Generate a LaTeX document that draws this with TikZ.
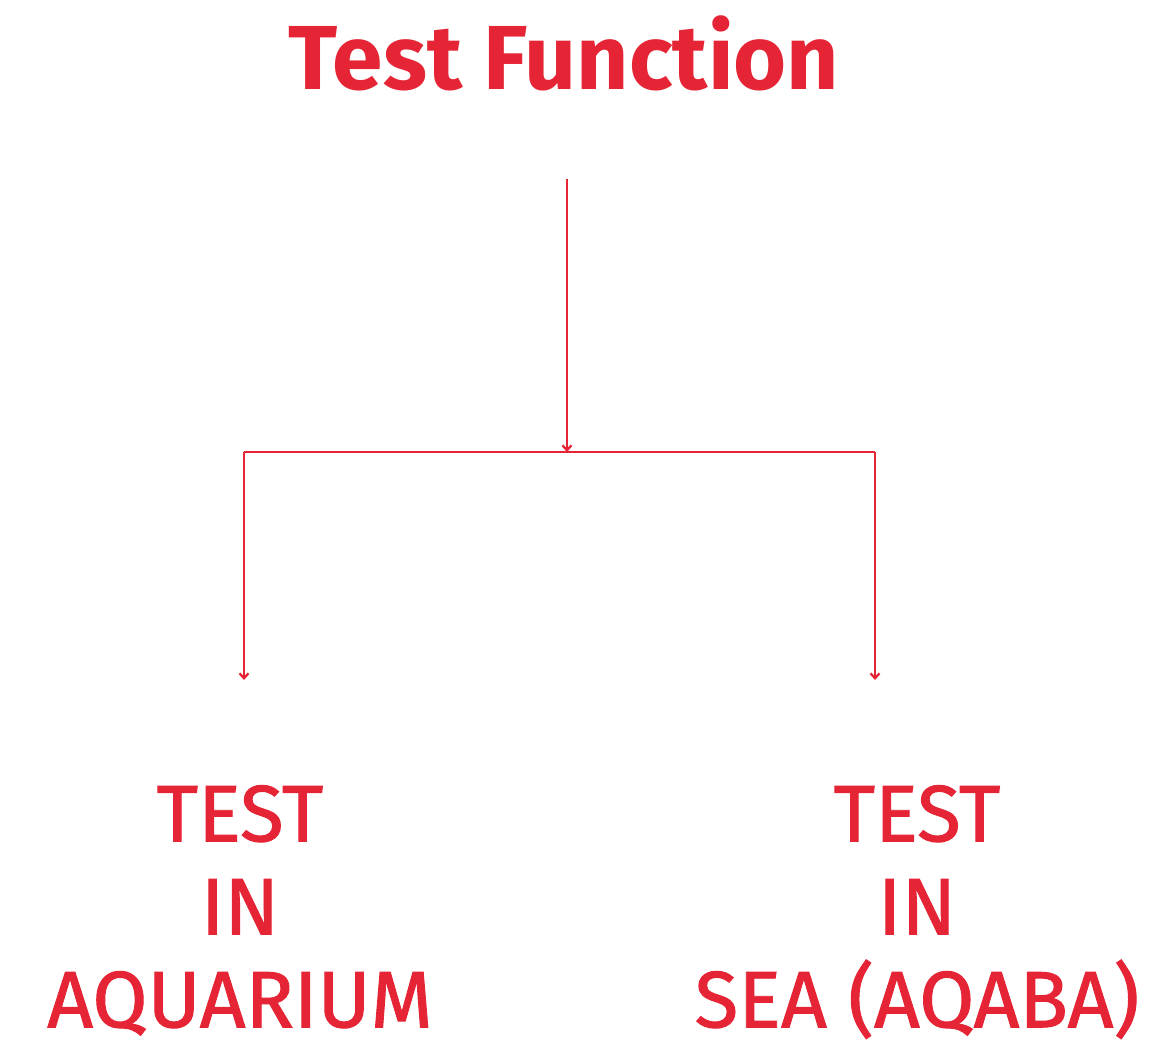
\documentclass[tikz,border=0pt]{standalone}
\usepackage{fontspec}
\setmainfont{Fira Sans}
\newfontfamily\placefont[FakeBold=1.2]{Fira Sans}
\usetikzlibrary{arrows.meta, positioning, calc}
\definecolor{testred}{HTML}{E52535}
\tikzstyle{heading} = [text=testred, font=\fontsize{91}{91}\selectfont\bfseries, inner sep=0pt, anchor=base]
\tikzstyle{place} = [text=testred, font=\placefont\fontsize{80}{93}\selectfont, align=center, inner sep=0pt, anchor=north]
\tikzstyle{link} = [draw=testred, line width=2.3pt]

\begin{document}
\begin{tikzpicture}[x=1pt, y=-1pt]
\useasboundingbox (0,0) rectangle (1172,1058);
\node (title) [heading] at (564,89) {Test Function};
\coordinate (top) at (567,179);
\coordinate (split) at (567,452);
\coordinate (left) at (244,452);
\coordinate (right) at (875,452);
\coordinate (lend) at (244,680);
\coordinate (rend) at (875,680);
\node (aquarium) [place] at (240,785) {TEST\\IN\\AQUARIUM};
\node (sea) [place] at (917,785) {TEST\\IN\\SEA (AQABA)};
\draw[link, -{Straight Barb[length=5pt, width=9pt]}] (top) -- (split);
\draw[link] (left) -- (right);
\draw[link, -{Straight Barb[length=5pt, width=9pt]}] (left) -- (lend);
\draw[link, -{Straight Barb[length=5pt, width=9pt]}] (right) -- (rend);
\end{tikzpicture}
\end{document}
